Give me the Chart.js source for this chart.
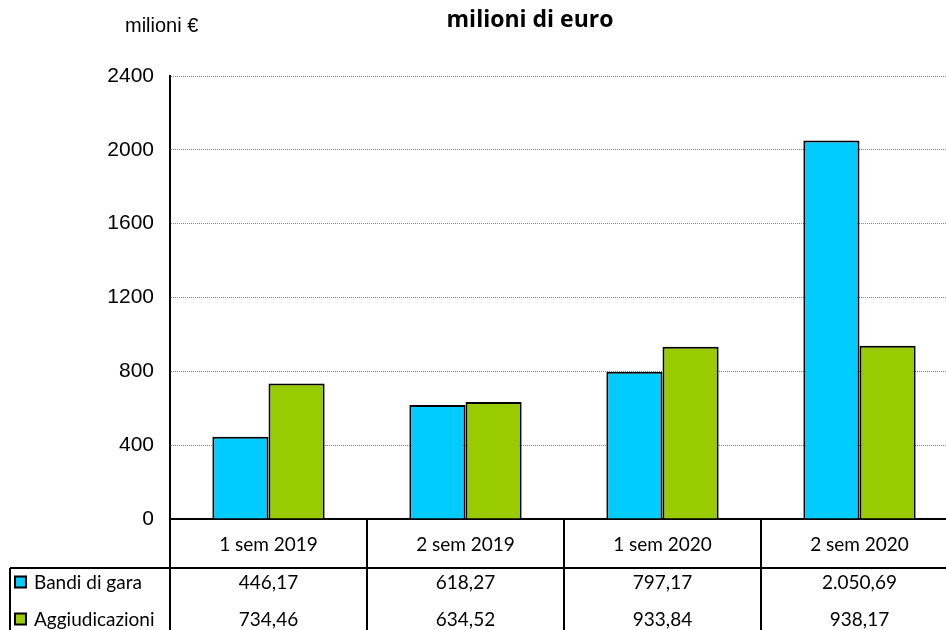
<!DOCTYPE html>
<html>
<head>
<meta charset="utf-8">
<script src="https://cdn.jsdelivr.net/npm/chart.js@4/dist/chart.umd.min.js"></script>
<style>
  html, body { margin: 0; padding: 0; background: #fff; overflow: hidden; }
  #wrap { width: 946px; height: 630px; overflow: hidden; }
</style>
</head>
<body>
<div id="wrap"><canvas id="barChart" width="958" height="630"></canvas></div>
<script>
var categories = ['1 sem 2019', '2 sem 2019', '1 sem 2020', '2 sem 2020'];
var bandiValues = [446.17, 618.27, 797.17, 2050.69];
var aggiudValues = [734.46, 634.52, 933.84, 938.17];
var seriesNames = ['Bandi di gara', 'Aggiudicazioni'];
var seriesColors = ['#00CCFF', '#99CC00'];
var yTicks = [0, 400, 800, 1200, 1600, 2000, 2400];

var tableFont = '19px Lato, "Noto Sans", sans-serif';

// italian number format, e.g. 2050.69 -> 2.050,69
function fmtIt(v) {
    var parts = v.toFixed(2).split('.');
    var intPart = parts[0].replace(/\B(?=(\d{3})+(?!\d))/g, '.');
    return intPart + ',' + parts[1];
}

// draws the data table under the x axis and the two headings
var tablePlugin = {
    id: 'dataTable',
    afterDraw: function (chart) {
        var ctx = chart.ctx;
        var x = chart.scales.x;
        var area = chart.chartArea;
        var n = categories.length;
        var catW = (area.right - area.left) / n;
        var headBottom = area.bottom + 49;
        var rowH = 37;
        var bottom = chart.height;
        var leftBox = 10;
        var rows = [bandiValues, aggiudValues];

        ctx.save();
        ctx.strokeStyle = '#000';
        ctx.lineWidth = 2;
        ctx.beginPath();
        // horizontal line under header row
        ctx.moveTo(leftBox, headBottom);
        ctx.lineTo(area.right, headBottom);
        // left box edge
        ctx.moveTo(leftBox, headBottom);
        ctx.lineTo(leftBox, bottom);
        // column separators
        for (var i = 0; i <= n; i++) {
            var bx = area.left + i * catW;
            ctx.moveTo(bx, area.bottom);
            ctx.lineTo(bx, bottom);
        }
        ctx.stroke();

        ctx.fillStyle = '#000';
        ctx.font = tableFont;
        ctx.textAlign = 'center';
        ctx.textBaseline = 'middle';
        for (var c = 0; c < n; c++) {
            var cx = x.getPixelForValue(c);
            ctx.fillText(categories[c], cx, (area.bottom + headBottom) / 2 + 1);
            for (var r = 0; r < rows.length; r++) {
                ctx.fillText(fmtIt(rows[r][c]), cx, headBottom + rowH * r + rowH / 2 - 4);
            }
        }

        // legend keys + series names
        ctx.textAlign = 'left';
        for (var r = 0; r < rows.length; r++) {
            var ry = headBottom + rowH * r + rowH / 2 - 4;
            ctx.fillStyle = seriesColors[r];
            ctx.fillRect(15, ry - 6, 11, 11);
            ctx.strokeStyle = '#000';
            ctx.lineWidth = 2;
            ctx.strokeRect(15, ry - 6, 11, 11);
            ctx.fillStyle = '#000';
            ctx.fillText(seriesNames[r], 34, ry);
        }

        // headings
        ctx.textAlign = 'center';
        ctx.font = 'bold 23px "Open Sans", Lato, sans-serif';
        ctx.fillText('milioni di euro', 530, 20);
        ctx.textAlign = 'left';
        ctx.font = '20px "Liberation Sans", Arial, sans-serif';
        ctx.fillText('milioni €', 125, 26);
        ctx.restore();
    }
};

var ctxB = document.getElementById('barChart').getContext('2d');
var barChart = new Chart(ctxB, {
    type: 'bar',
    data: {
        labels: categories,
        datasets: [{
            label: seriesNames[0],
            data: bandiValues,
            backgroundColor: seriesColors[0],
            borderColor: '#000',
            borderWidth: 2
        }, {
            label: seriesNames[1],
            data: aggiudValues,
            backgroundColor: seriesColors[1],
            borderColor: '#000',
            borderWidth: 2
        }]
    },
    options: {
        responsive: false,
        animation: false,
        devicePixelRatio: 1,
        layout: { padding: { top: 76, right: 0, bottom: 0, left: 0 } },
        datasets: {
            bar: { categoryPercentage: 0.57, barPercentage: 1.0 }
        },
        plugins: {
            legend: { display: false },
            title: { display: false },
            tooltip: { enabled: false }
        },
        scales: {
            x: {
                grid: { display: false, drawTicks: false },
                ticks: { display: false },
                border: { color: '#000', width: 2 },
                afterFit: function (s) { s.height = 111; }
            },
            y: {
                min: 0,
                max: 2400,
                afterBuildTicks: function (s) {
                    s.ticks = yTicks.map(function (v) { return { value: v }; });
                },
                ticks: {
                    color: '#000',
                    padding: 16,
                    font: { family: '"Liberation Sans", Arial, sans-serif', size: 21 },
                    callback: function (v) { return String(v); }
                },
                grid: { color: '#888', lineWidth: 1, drawTicks: false },
                // in v4 border.dash styles the grid lines, the axis line stays solid
                border: { color: '#000', width: 2, dash: [1, 1] },
                afterFit: function (s) { s.width = 170; }
            }
        }
    },
    plugins: [tablePlugin]
});
</script>
</body>
</html>
